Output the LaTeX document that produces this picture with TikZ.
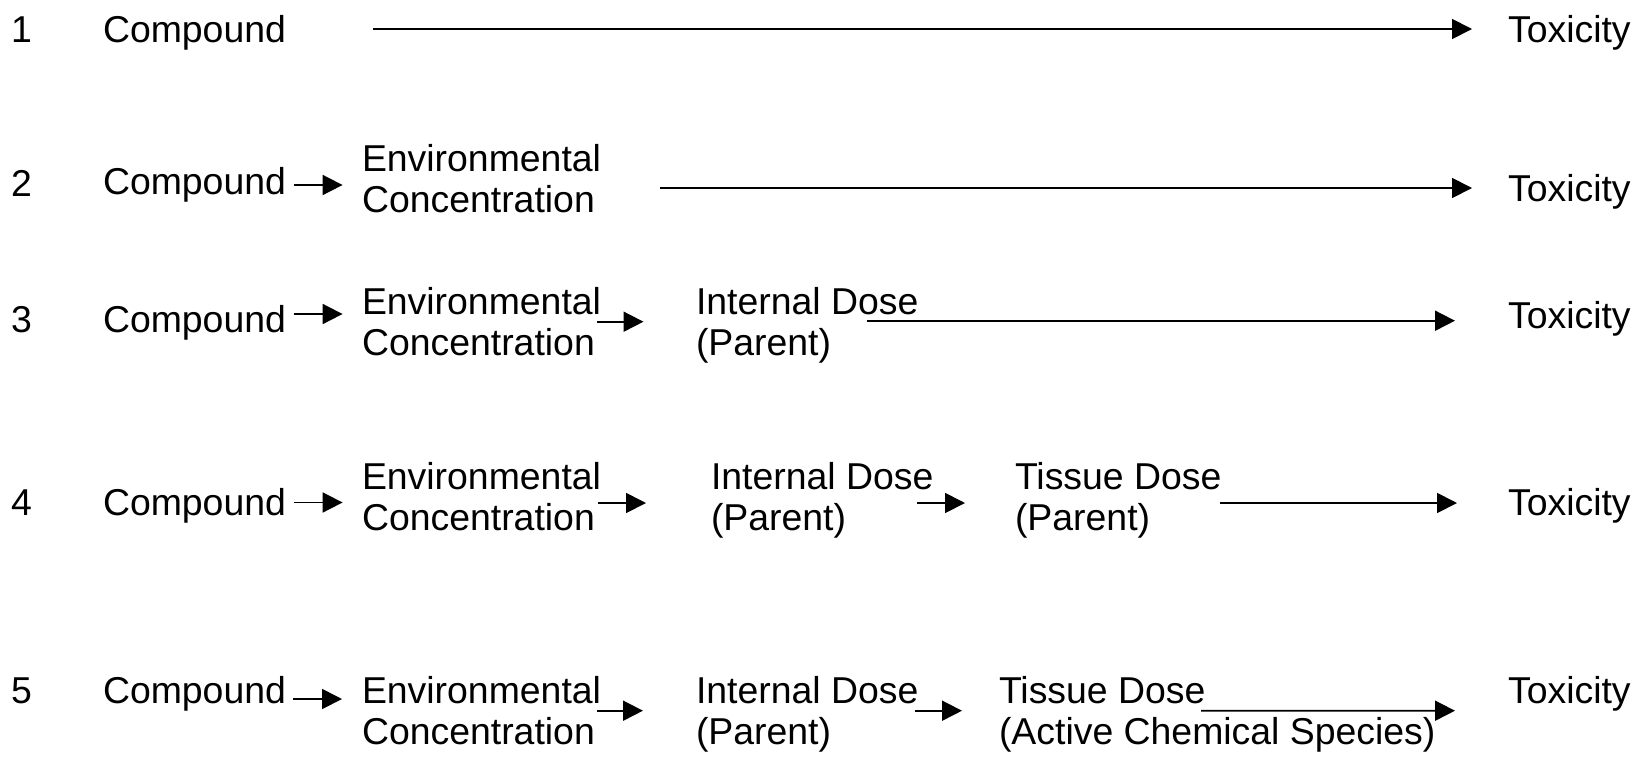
\documentclass[tikz,border=0pt]{standalone}
\usepackage{fontspec}
\setmainfont{Liberation Sans}
\usetikzlibrary{arrows.meta}
\begin{document}
\begin{tikzpicture}[x=0.5pt,y=-0.5pt,
  lbl/.style={anchor=base west,inner sep=0pt,outer sep=0pt,align=left,
    font=\fontsize{18.7pt}{20.5pt}\selectfont},
  arr/.style={line width=0.9pt,-{Triangle[length=10pt,width=10pt]}}]
\useasboundingbox (0,0) rectangle (1638,761);

% row 1
\node[lbl] (n1) at (11,42) {1};
\node[lbl] (c1) at (103,42) {Compound};
\node[lbl] (t1) at (1508,42) {Toxicity};
\draw[arr] ([shift={(270,-13)}]c1.base west) -- ([shift={(-36,-13)}]t1.base west);

% row 2 (two-line labels are placed by the baseline of their last line)
\node[lbl] (n2) at (11,196) {2};
\node[lbl] (c2) at (103,194) {Compound};
\node[lbl] (e2) at (362,212) {Environmental\\Concentration};
\node[lbl] (t2) at (1508,201) {Toxicity};
\draw[arr] ([shift={(190.5,-9)}]c2.base west) -- ([shift={(-19.4,-27)}]e2.base west);
\draw[arr] ([shift={(298,-24)}]e2.base west) -- ([shift={(-36,-13)}]t2.base west);

% row 3
\node[lbl] (n3) at (11,332) {3};
\node[lbl] (c3) at (103,332) {Compound};
\node[lbl] (e3) at (362,355) {Environmental\\Concentration};
\node[lbl] (i3) at (696,355) {Internal Dose\\(Parent)};
\node[lbl] (t3) at (1508,328) {Toxicity};
\draw[arr] ([shift={(190.5,-18)}]c3.base west) -- ([shift={(-19.4,-41)}]e3.base west);
\draw[arr] ([shift={(235,-33.3)}]e3.base west) -- ([shift={(-52.5,-33.3)}]i3.base west);
\draw[arr] ([shift={(171,-34.3)}]i3.base west) -- ([shift={(-53,-7.3)}]t3.base west);

% row 4
\node[lbl] (n4) at (11,515) {4};
\node[lbl] (c4) at (103,515) {Compound};
\node[lbl] (e4) at (362,530) {Environmental\\Concentration};
\node[lbl] (i4) at (711,530) {Internal Dose\\(Parent)};
\node[lbl] (s4) at (1015,530) {Tissue Dose\\(Parent)};
\node[lbl] (t4) at (1508,515) {Toxicity};
\draw[arr] ([shift={(190.5,-12.5)}]c4.base west) -- ([shift={(-19.4,-27.5)}]e4.base west);
\draw[arr] ([shift={(236,-27)}]e4.base west) -- ([shift={(-65,-27)}]i4.base west);
\draw[arr] ([shift={(206,-27)}]i4.base west) -- ([shift={(-50,-27)}]s4.base west);
\draw[arr] ([shift={(205,-27)}]s4.base west) -- ([shift={(-51,-12)}]t4.base west);

% row 5
\node[lbl] (n5) at (11,703) {5};
\node[lbl] (c5) at (103,703) {Compound};
\node[lbl] (e5) at (362,744) {Environmental\\Concentration};
\node[lbl] (i5) at (696,744) {Internal Dose\\(Parent)};
\node[lbl] (s5) at (999,744) {Tissue Dose\\(Active Chemical Species)};
\node[lbl] (t5) at (1508,703) {Toxicity};
\draw[arr] ([shift={(190,-4)}]c5.base west) -- ([shift={(-20,-45)}]e5.base west);
\draw[arr] ([shift={(235,-33.3)}]e5.base west) -- ([shift={(-53,-33.3)}]i5.base west);
\draw[arr] ([shift={(219,-33.3)}]i5.base west) -- ([shift={(-37,-33.3)}]s5.base west);
\draw[arr] ([shift={(202,-33.3)}]s5.base west) -- ([shift={(-53,7.7)}]t5.base west);
\end{tikzpicture}
\end{document}
